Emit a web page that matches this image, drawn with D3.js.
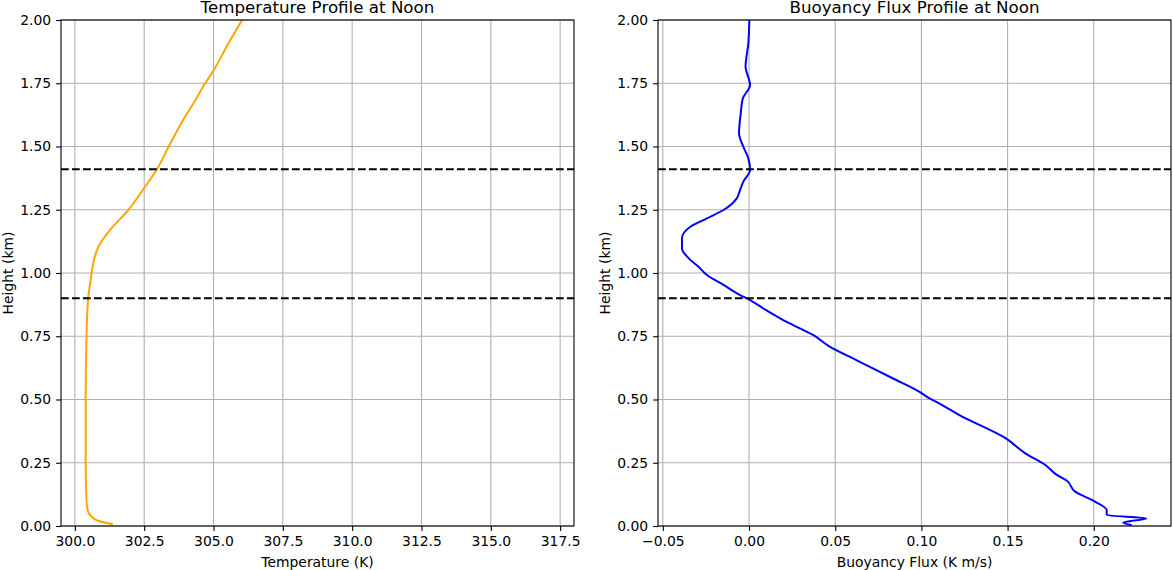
<!DOCTYPE html>
<html>
<head>
<meta charset="utf-8">
<script src="https://cdn.jsdelivr.net/npm/d3@7"></script>
<style>
  body { margin: 0; background: #fff; }
  svg { display: block; font-family: "DejaVu Sans", sans-serif; }
</style>
</head>
<body>
<svg id="chart" width="1173" height="570"></svg>
<script>
// heights (km) and values
var tempHeights = [0.007, 0.02, 0.037, 0.06, 0.1, 0.25, 0.5, 0.75, 0.9, 0.972, 1.038, 1.104, 1.17,
                   1.249, 1.328, 1.41, 1.499, 1.6, 1.684, 1.75, 1.802, 1.9, 2.0];
var tempValues = [301.37, 300.85, 300.6, 300.47, 300.42, 300.39, 300.39, 300.42, 300.48, 300.57, 300.66,
                  300.85, 301.27, 301.93, 302.45, 302.96, 303.38, 303.88, 304.35, 304.7, 305.01, 305.5, 306.03];

var fluxHeights = [0.004, 0.013, 0.030, 0.043, 0.063, 0.103, 0.136, 0.179, 0.202, 0.241, 0.287, 0.347,
                   0.439, 0.485, 0.505, 0.531, 0.584, 0.656, 0.709, 0.755, 0.794, 0.814, 0.856, 0.893,
                   0.913, 0.953, 0.992, 1.025, 1.058, 1.098, 1.137, 1.183, 1.216, 1.249, 1.295, 1.328,
                   1.361, 1.407, 1.453, 1.499, 1.552, 1.631, 1.69, 1.743, 1.816, 1.908, 2.0];
var fluxValues = [0.222, 0.2171, 0.2305, 0.2075, 0.2075, 0.1988, 0.1892, 0.1844, 0.1786, 0.1719, 0.1603, 0.1488,
                  0.1218, 0.1103, 0.1045, 0.0987, 0.0833, 0.0622, 0.0468, 0.0371, 0.0256, 0.0198, 0.0092, 0.0006,
                  -0.0052, -0.0148, -0.0244, -0.0293, -0.035, -0.0389, -0.0389, -0.034, -0.0244, -0.0148, -0.0071, -0.0052,
                  -0.0033, 0.0006, -0.0004, -0.0033, -0.0058, -0.0048, -0.0036, 0.0006, -0.002, -0.0004, 0.0002];

var boundaryHeights = [1.41, 0.9];
var heightTicks = [0, 0.25, 0.5, 0.75, 1.0, 1.25, 1.5, 1.75, 2.0];
var tempTicks = [300, 302.5, 305, 307.5, 310, 312.5, 315, 317.5];
var fluxTicks = [-0.05, 0, 0.05, 0.1, 0.15, 0.2];

var svg = d3.select("#chart");
var plotTop = 20, plotBottom = 526;

function panel(opts) {
    var g = svg.append("g");
    var x = d3.scaleLinear().domain(opts.xDomain).range([opts.left, opts.right]);
    var y = d3.scaleLinear().domain([0, 2]).range([plotBottom, plotTop]);

    // grid
    g.append("g").selectAll("line").data(opts.xTicks).enter().append("line")
        .attr("x1", function(d) { return x(d); }).attr("x2", function(d) { return x(d); })
        .attr("y1", plotTop).attr("y2", plotBottom)
        .attr("stroke", "#b0b0b0").attr("stroke-width", 1.1);
    g.append("g").selectAll("line").data(heightTicks).enter().append("line")
        .attr("x1", opts.left).attr("x2", opts.right)
        .attr("y1", function(d) { return y(d); }).attr("y2", function(d) { return y(d); })
        .attr("stroke", "#b0b0b0").attr("stroke-width", 1.1);

    var pts = opts.heights.map(function(h, i) { return [opts.values[i], h]; });
    var line = d3.line()
        .x(function(d) { return x(d[0]); })
        .y(function(d) { return y(d[1]); })
        .curve(d3.curveMonotoneY);

    g.append("defs").append("clipPath").attr("id", opts.id)
        .append("rect").attr("x", opts.left).attr("y", plotTop)
        .attr("width", opts.right - opts.left).attr("height", plotBottom - plotTop);

    g.append("path").datum(pts)
        .attr("clip-path", "url(#" + opts.id + ")")
        .attr("fill", "none").attr("stroke", opts.color)
        .attr("stroke-width", 2).attr("stroke-linejoin", "round")
        .attr("d", line);

    // boundary layer lines
    g.append("g").selectAll("line").data(boundaryHeights).enter().append("line")
        .attr("x1", opts.left).attr("x2", opts.right)
        .attr("y1", function(d) { return y(d); }).attr("y2", function(d) { return y(d); })
        .attr("stroke", "#000").attr("stroke-width", 2)
        .attr("stroke-dasharray", "7.7,3.3");

    // axes
    var xAxis = d3.axisBottom(x).tickValues(opts.xTicks).tickFormat(opts.fmt)
        .tickSize(4.9).tickSizeOuter(0).tickPadding(4.9);
    var yAxis = d3.axisLeft(y).tickValues(heightTicks).tickFormat(d3.format(".2f"))
        .tickSize(4.9).tickSizeOuter(0).tickPadding(4.9);
    var xa = g.append("g").attr("transform", "translate(0," + plotBottom + ")").call(xAxis);
    var ya = g.append("g").attr("transform", "translate(" + opts.left + ",0)").call(yAxis);
    [xa, ya].forEach(function(a) {
        a.attr("font-family", null).attr("font-size", 13.9);
        a.select(".domain").remove();
        a.selectAll(".tick line").attr("stroke", "#000").attr("stroke-width", 1.1);
        a.selectAll(".tick text").attr("fill", "#000");
    });

    g.append("rect").attr("x", opts.left).attr("y", plotTop)
        .attr("width", opts.right - opts.left).attr("height", plotBottom - plotTop)
        .attr("fill", "none").attr("stroke", "#000").attr("stroke-width", 1.1);

    var mid = (opts.left + opts.right) / 2;
    g.append("text").attr("x", mid).attr("y", 13)
        .attr("text-anchor", "middle").attr("font-size", 16.7).text(opts.title);
    g.append("text").attr("x", mid).attr("y", 567)
        .attr("text-anchor", "middle").attr("font-size", 13.9).text(opts.xLabel);
    g.append("text")
        .attr("transform", "translate(" + (opts.left - 48) + "," + ((plotTop + plotBottom) / 2) + ") rotate(-90)")
        .attr("text-anchor", "middle").attr("font-size", 13.9).text("Height (km)");
}

panel({
    id: "clipT", left: 61, right: 574, xDomain: [299.5, 318.0],
    xTicks: tempTicks, fmt: d3.format(".1f"),
    heights: tempHeights, values: tempValues, color: "#ffa500",
    title: "Temperature Profile at Noon", xLabel: "Temperature (K)"
});

panel({
    id: "clipB", left: 658, right: 1171, xDomain: [-0.0528, 0.2448],
    xTicks: fluxTicks, fmt: function(d) { return d3.format(".2f")(d).replace("-", "\u2212"); },
    heights: fluxHeights, values: fluxValues, color: "#0000ff",
    title: "Buoyancy Flux Profile at Noon", xLabel: "Buoyancy Flux (K m/s)"
});
</script>
</body>
</html>
